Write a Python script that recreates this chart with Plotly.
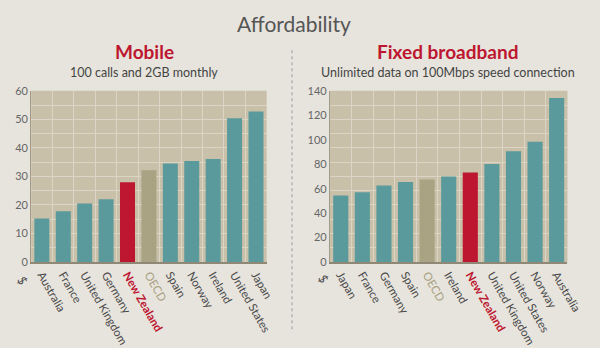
import plotly.graph_objects as go

mobile_countries = ["Australia", "France", "United Kingdom", "Germany", "New Zealand", "OECD",
                    "Spain", "Norway", "Ireland", "United States", "Japan"]
mobile_values = [15.3, 17.8, 20.5, 22.0, 28.0, 32.2, 34.5, 35.4, 36.1, 50.4, 52.7]

fixed_countries = ["Japan", "France", "Germany", "Spain", "OECD", "Ireland", "New Zealand",
                   "United Kingdom", "United States", "Norway", "Australia"]
fixed_values = [54.5, 57.0, 62.5, 65.5, 67.5, 70.0, 73.3, 80.2, 90.5, 98.3, 134.0]

mobile_ticks = [0, 10, 20, 30, 40, 50, 60]
fixed_ticks = [0, 20, 40, 60, 80, 100, 120, 140]

TEAL = "#5A999C"
RED = "#BD1630"
OLIVE = "#A9A283"
BG = "#E7E4DD"
PLOT_BG = "#C9C0A9"
GRID = "#DCD5C5"
FONT = "Lato"


def bar_colors(cats):
    return [RED if c == "New Zealand" else OLIVE if c == "OECD" else TEAL for c in cats]


def tick_text(cats):
    out = []
    for c in cats:
        if c == "New Zealand":
            out.append("<b><span style='color:%s'>%s</span></b>" % (RED, c))
        elif c == "OECD":
            out.append("<span style='color:%s'>%s</span>" % (OLIVE, c))
        else:
            out.append(c)
    return out


fig = go.Figure()
fig.add_trace(go.Bar(x=mobile_countries, y=mobile_values, marker=dict(color=bar_colors(mobile_countries), line=dict(width=0)),
                     xaxis="x", yaxis="y", showlegend=False))
fig.add_trace(go.Bar(x=fixed_countries, y=fixed_values, marker=dict(color=bar_colors(fixed_countries), line=dict(width=0)),
                     xaxis="x2", yaxis="y2", showlegend=False))

W, H = 600, 348


def px(x):
    return x / W


def py(y):
    return (H - y) / H


xcommon = dict(type="category", tickson="boundaries", showgrid=True, gridcolor=GRID, gridwidth=1,
               ticks="", tickangle=60, tickfont=dict(family=FONT, size=11.5, color="#4A4A4A"),
               showline=True, linecolor="#8F8877", linewidth=1.5, zeroline=False)
ycommon = dict(showgrid=False, ticks="", tickfont=dict(family=FONT, size=11, color="#666"),
               showline=True, linecolor="#A39B88", linewidth=1, zeroline=False)

fig.update_layout(
    width=W, height=H,
    margin=dict(l=0, r=0, t=0, b=0),
    paper_bgcolor=BG, plot_bgcolor=PLOT_BG,
    bargap=0.3,
    font=dict(family=FONT),
    xaxis=dict(domain=[px(32), px(274)], anchor="y", tickvals=mobile_countries,
               ticktext=tick_text(mobile_countries), **xcommon),
    yaxis=dict(domain=[py(265), py(87)], anchor="x", range=[0, 60], tickvals=mobile_ticks,
               minor=dict(dtick=5, tick0=0, showgrid=True, gridcolor=GRID, gridwidth=1), **ycommon),
    xaxis2=dict(domain=[px(339), px(583)], anchor="y2", tickvals=fixed_countries,
                ticktext=tick_text(fixed_countries), **xcommon),
    yaxis2=dict(domain=[py(265), py(87)], anchor="x2", range=[0, 140], tickvals=fixed_ticks,
                minor=dict(dtick=140 / 12, tick0=0, showgrid=True, gridcolor=GRID, gridwidth=1), **ycommon),
)

ann = [
    dict(text="Affordability", x=px(302), y=py(17), font=dict(size=21, color="#555555")),
    dict(text="<b>Mobile</b>", x=px(148), y=py(46), font=dict(size=19, color=RED)),
    dict(text="100 calls and 2GB monthly", x=px(148), y=py(68), font=dict(size=12.5, color="#444444")),
    dict(text="<b>Fixed broadband</b>", x=px(460), y=py(46), font=dict(size=19, color=RED)),
    dict(text="Unlimited data on 100Mbps speed connection", x=px(460), y=py(68), font=dict(size=12.5, color="#444444")),
    dict(text="$", x=px(23), y=py(284), font=dict(size=12, color="#4A4A4A"), textangle=60),
    dict(text="$", x=px(332), y=py(282), font=dict(size=12, color="#4A4A4A"), textangle=60),
]
for a in ann:
    fig.add_annotation(xref="paper", yref="paper", showarrow=False, xanchor="center", yanchor="middle",
                       **{k: v for k, v in a.items() if k != "font"},
                       font=dict(family=FONT, **a["font"]))

fig.add_shape(type="line", xref="paper", yref="paper", x0=px(300), x1=px(300), y0=py(45), y1=py(338),
              line=dict(color="#9A9A9A", width=1, dash="dot"))

fig.write_html("out.html")
